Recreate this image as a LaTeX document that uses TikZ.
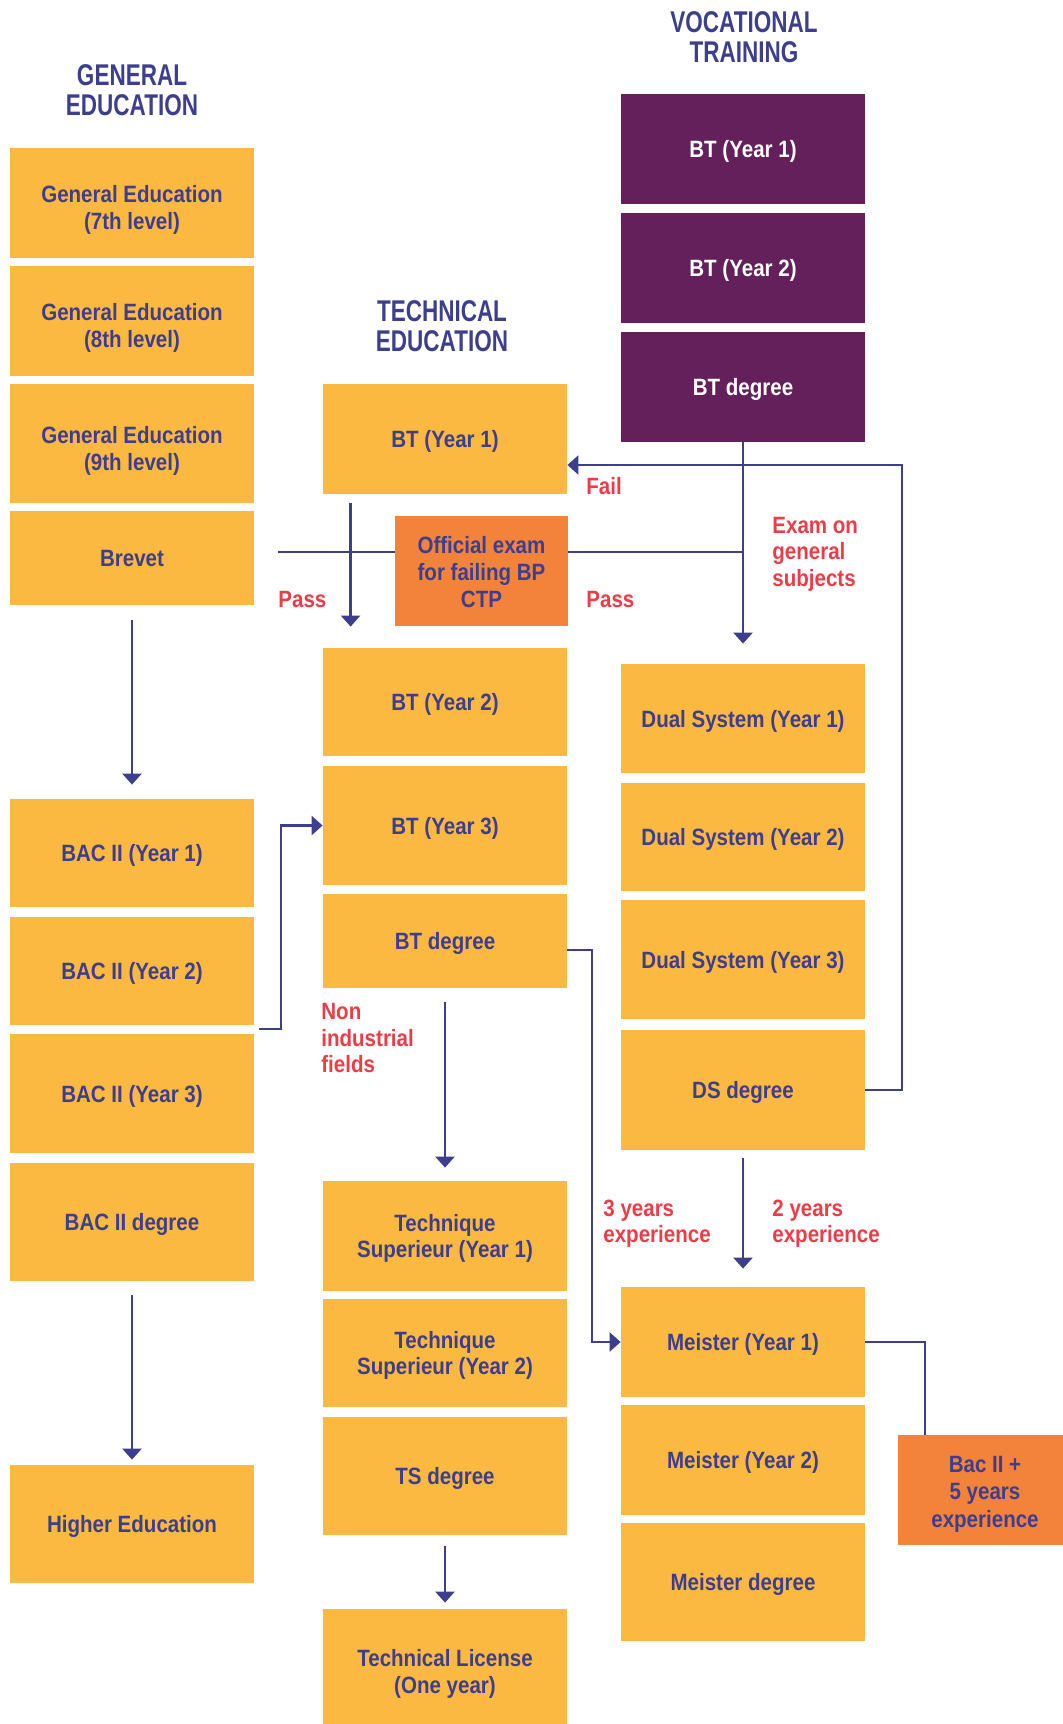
\documentclass[tikz,border=0pt]{standalone}
\usepackage{fontspec}
\setmainfont{Liberation Sans}[FakeStretch=0.87]
\newfontfamily\headfont{Liberation Sans}[FakeStretch=0.75]
\usetikzlibrary{arrows.meta,backgrounds,positioning}

\definecolor{boxyellow}{RGB}{252,185,65}
\definecolor{plum}{RGB}{99,32,91}
\definecolor{examorange}{RGB}{243,131,59}
\definecolor{navy}{RGB}{62,62,142}
\definecolor{labelred}{RGB}{237,60,70}

\tikzset{
  box/.style={fill=boxyellow,text=navy,font=\bfseries\fontsize{11.8}{13.4}\selectfont,align=center,minimum width=122pt,inner sep=0pt,text height=8.6pt,text depth=0pt},
  twoline/.style={text height=21.8pt},
  genline/.style={text height=26.7pt},
  plumbox/.style={box,fill=plum,text=white},
  orangebox/.style={box,fill=examorange},
  header/.style={text=navy,font=\headfont\bfseries\fontsize{15}{14.9}\selectfont,align=center},
  lbl/.style={text=labelred,font=\bfseries\fontsize{11.8}{13.3}\selectfont,align=left,anchor=west,inner sep=0pt},
  conn/.style={draw=navy,line width=1.25pt},
  arr/.style={conn,-{Triangle[length=5.5pt,width=9.5pt]}}
}

\begin{document}
\begin{tikzpicture}[x=0.5pt,y=-0.5pt]

\useasboundingbox (0,0) rectangle (1063,1724);

% column headers
\node (genhead) [header] at (132,90) {GENERAL\\EDUCATION};
\node (techhead) [header] at (442,326) {TECHNICAL\\EDUCATION};
\node (vochead) [header] at (744,37) {VOCATIONAL\\TRAINING};

% general education
\node (ge7) [box,genline,minimum height=55pt] at (132,203) {General Education\\(7th level)};
\node (ge8) [box,genline,minimum height=55pt] at (132,321) {General Education\\(8th level)};
\node (ge9) [box,genline,minimum height=59.5pt] at (132,443.5) {General Education\\(9th level)};
\node (brevet) [box,minimum height=47pt] at (132,558) {Brevet};
\node (bac1) [box,minimum height=54pt] at (132,853) {BAC II (Year 1)};
\node (bac2) [box,minimum height=54pt] at (132,971) {BAC II (Year 2)};
\node (bac3) [box,minimum height=59.5pt] at (132,1093.5) {BAC II (Year 3)};
\node (bacdeg) [box,minimum height=59pt] at (132,1222) {BAC II degree};
\node (higher) [box,minimum height=59pt] at (132,1524) {Higher Education};

% technical education
\node (bt1) [box,minimum height=55pt] at (445,439) {BT (Year 1)};
\node (official) [orangebox,text height=36.5pt,minimum width=86.5pt,minimum height=55pt] at (481.5,571) {Official exam\\for failing BP\\CTP};
\node (bt2) [box,minimum height=54pt] at (445,702) {BT (Year 2)};
\node (bt3) [box,minimum height=59.5pt] at (445,825.5) {BT (Year 3)};
\node (btdeg) [box,minimum height=47pt] at (445,941) {BT degree};
\node (ts1) [box,twoline,minimum height=55pt] at (445,1236) {Technique\\Superieur (Year 1)};
\node (ts2) [box,twoline,minimum height=54pt] at (445,1353) {Technique\\Superieur (Year 2)};
\node (tsdeg) [box,minimum height=59pt] at (445,1476) {TS degree};
\node (license) [box,twoline,minimum height=62.5pt] at (445,1671.5) {Technical License\\(One year)};

% vocational training
\node (vbt1) [plumbox,minimum height=55pt] at (743,149) {BT (Year 1)};
\node (vbt2) [plumbox,minimum height=55pt] at (743,268) {BT (Year 2)};
\node (vbtdeg) [plumbox,minimum height=55pt] at (743,387) {BT degree};
\node (ds1) [box,minimum height=54.5pt] at (743,718.5) {Dual System (Year 1)};
\node (ds2) [box,minimum height=54pt] at (743,837) {Dual System (Year 2)};
\node (ds3) [box,minimum height=59.5pt] at (743,959.5) {Dual System (Year 3)};
\node (dsdeg) [box,minimum height=60pt] at (743,1090) {DS degree};
\node (m1) [box,minimum height=55pt] at (743,1342) {Meister (Year 1)};
\node (m2) [box,minimum height=55pt] at (743,1460) {Meister (Year 2)};
\node (mdeg) [box,minimum height=59pt] at (743,1582) {Meister degree};
\node (bacplus) [orangebox,font=\bfseries\fontsize{11.8}{13.7}\selectfont,text height=37.3pt,minimum width=87pt,minimum height=55pt] at (985,1490) {Bac II +\\5 years\\experience};

% labels
\node (faillbl) [lbl] at (586,486) {Fail};
\node (passleft) [lbl] at (278,599) {Pass};
\node (passright) [lbl] at (586,599) {Pass};
\node (examlbl) [lbl] at (772,554) {Exam on\\general\\subjects};
\node (nonind) [lbl] at (321,1038) {Non\\industrial\\fields};
\node (threeyrs) [lbl] at (603,1223.5) {3 years\\experience};
\node (twoyrs) [lbl] at (772,1223.5) {2 years\\experience};

% connectors
\coordinate (passstart) at (278,552);
\begin{scope}[on background layer]
\draw [conn] (passstart) -- (passstart -| vbtdeg);
\end{scope}

\draw [arr,shorten <=7.5pt,shorten >=7pt] (brevet) -- (bac1);
\draw [arr,shorten <=7pt,shorten >=2.5pt] (bacdeg) -- (higher);
\draw [arr] ([xshift=14pt,yshift=-4.5pt]bt1.south west) -- ([xshift=14pt,yshift=10.5pt]bt2.north west);
\draw [arr,shorten >=10pt] (vbtdeg) -- (ds1);
\draw [arr,shorten <=7pt,shorten >=6.5pt] (btdeg) -- (ts1);
\draw [arr,shorten <=4pt,shorten >=9pt] (dsdeg) -- (m1);
\draw [arr,shorten <=5.5pt,shorten >=3pt] (tsdeg) -- (license);

\coordinate (failturn) at (902,465);
\draw [arr] (dsdeg.east) -| (failturn) -- (bt1.east |- failturn);

\coordinate (bacout) at (259,1029);
\coordinate (bacturn) at (281,1029);
\draw [arr] (bacout) -- (bacturn) |- (bt3.west);

\coordinate (meisterturn) at (592,1342);
\draw [arr] ([yshift=-4.5pt]btdeg.east) -| (meisterturn) -- (m1.west);

\draw [conn] (m1.east) -| ([xshift=-30pt]bacplus.north);

\end{tikzpicture}
\end{document}
